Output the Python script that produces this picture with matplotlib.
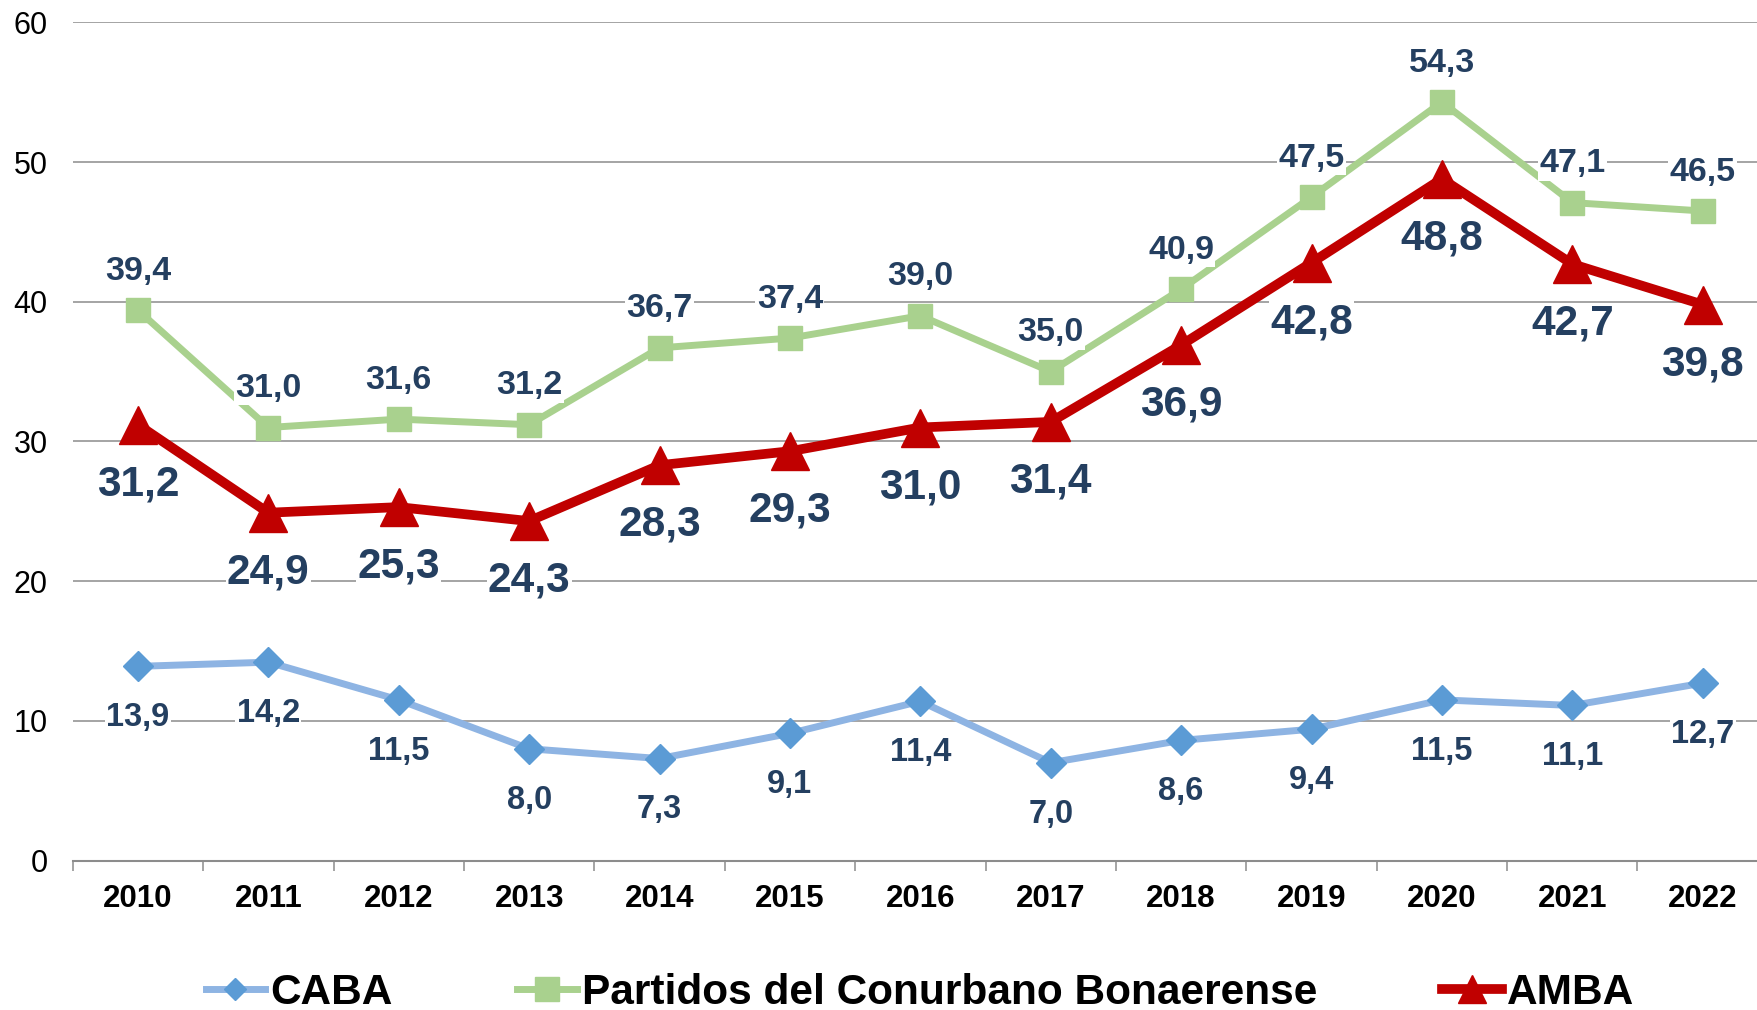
import matplotlib
matplotlib.use("Agg")
import matplotlib.pyplot as plt
import numpy as np

plt.rcParams['font.family'] = ['Liberation Sans', 'DejaVu Sans']

years = ['2010', '2011', '2012', '2013', '2014', '2015', '2016',
         '2017', '2018', '2019', '2020', '2021', '2022']
caba = [13.9, 14.2, 11.5, 8.0, 7.3, 9.1, 11.4, 7.0, 8.6, 9.4, 11.5, 11.1, 12.7]
conurbano = [39.4, 31.0, 31.6, 31.2, 36.7, 37.4, 39.0, 35.0, 40.9, 47.5, 54.3, 47.1, 46.5]
amba = [31.2, 24.9, 25.3, 24.3, 28.3, 29.3, 31.0, 31.4, 36.9, 42.8, 48.8, 42.7, 39.8]

label_color = '#243F60'
grid_color = '#8C8C8C'

fig = plt.figure(figsize=(17.57, 10.10), dpi=100)
ax = fig.add_axes([0.0414, 0.148, 0.9648, 0.8298])
x = np.arange(len(years))

ax.plot(x, caba, color='#8EB4E3', lw=5, marker='D', ms=15,
        mfc='#5B9BD5', mec='#5B9BD5', label='CABA', zorder=3)
ax.plot(x, conurbano, color='#A9D18E', lw=5, marker='s', ms=17,
        mfc='#A9D18E', mec='#A9D18E', label='Partidos del Conurbano Bonaerense', zorder=4)
ax.plot(x, amba, color='#C00000', lw=7, marker='^', ms=28,
        mfc='#C00000', mec='#C00000', label='AMBA', zorder=5)

box = dict(facecolor='white', edgecolor='none', pad=1)


def fmt(v):
    return f'{v:.1f}'.replace('.', ',')


for xi, v in zip(x, conurbano):
    ax.annotate(fmt(v), (xi, v), xytext=(0, 28), textcoords='offset points',
                ha='center', va='center', fontsize=24.5, fontweight='bold',
                color=label_color, bbox=box, zorder=6)
for xi, v in zip(x, amba):
    ax.annotate(fmt(v), (xi, v), xytext=(0, -43), textcoords='offset points',
                ha='center', va='center', fontsize=30.5, fontweight='bold',
                color=label_color, bbox=box, zorder=6)
for xi, v in zip(x, caba):
    ax.annotate(fmt(v), (xi, v), xytext=(0, -37), textcoords='offset points',
                ha='center', va='center', fontsize=23.5, fontweight='bold',
                color=label_color, bbox=box, zorder=6)

ax.set_xlim(-0.5, 12.5)
ax.set_ylim(0, 60)
ax.set_yticks(np.arange(0, 61, 10))
ax.yaxis.grid(True, color=grid_color, lw=1.1)
ax.set_axisbelow(True)

ax.set_xticks(x)
ax.set_xticklabels(years, fontsize=22.5, fontweight='bold')
ax.set_xticks(np.arange(-0.5, 13, 1), minor=True)
ax.tick_params(axis='x', which='major', length=0, pad=17)
ax.tick_params(axis='x', which='minor', length=7, width=1.1, color=grid_color)
ax.tick_params(axis='y', length=0, labelsize=22, pad=18)

for s in ['top', 'right', 'left']:
    ax.spines[s].set_visible(False)
ax.spines['bottom'].set_color(grid_color)
ax.spines['bottom'].set_linewidth(1.5)

leg = fig.legend(loc='center', bbox_to_anchor=(0.5235, 0.017), ncol=3, frameon=False,
                 prop={'size': 30.5, 'weight': 'bold'}, handlelength=1.4,
                 handletextpad=0.12, columnspacing=2.95)
for h, size in zip(leg.legend_handles, [11.5, 17, 20]):
    h.set_markersize(size)

fig.savefig('out.png', dpi=100)
